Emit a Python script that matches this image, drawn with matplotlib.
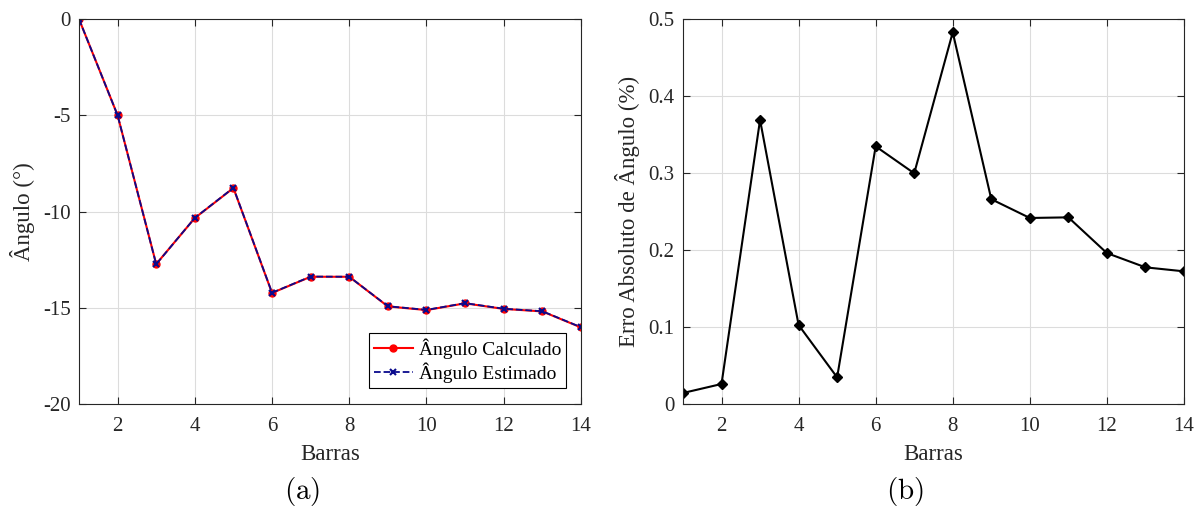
import matplotlib
matplotlib.use('Agg')
import numpy as np
from matplotlib import pyplot as plt

barras = np.arange(1, 15)
angulo_calc = [0.0, -5.0, -12.73, -10.34, -8.78, -14.23, -13.39, -13.39,
               -14.93, -15.12, -14.77, -15.06, -15.19, -16.02]
angulo_est = [0.0, -5.0, -12.74, -10.33, -8.77, -14.22, -13.38, -13.39,
              -14.92, -15.11, -14.76, -15.05, -15.18, -16.01]
erro_abs = [0.0143, 0.026, 0.369, 0.1026, 0.0346, 0.3346, 0.2996, 0.4827,
            0.266, 0.2416, 0.2424, 0.196, 0.1775, 0.1723]

plt.rcParams['font.family'] = ['Liberation Serif', 'DejaVu Serif']
plt.rcParams['mathtext.fontset'] = 'cm'
plt.rcParams['axes.unicode_minus'] = False
tick_fs = 15
label_fs = 16.5
txt = '#262626'


def style_axes(ax):
    ax.set_xlim(1, 14)
    ax.set_xticks(np.arange(2, 15, 2))
    ax.grid(True, color='#dcdcdc', linewidth=0.8)
    ax.set_axisbelow(True)
    ax.tick_params(direction='in', top=True, right=True, labelsize=tick_fs,
                   length=5, width=0.8, colors=txt)
    ax.tick_params(axis='x', pad=9)
    ax.tick_params(axis='y', pad=6)
    for s in ax.spines.values():
        s.set_linewidth(0.8)
        s.set_color(txt)
    ax.set_xlabel('Barras', fontsize=label_fs, color=txt, labelpad=6)


fig = plt.figure(figsize=(12.02, 5.08), dpi=100)

# (a) angulos
ax1 = fig.add_axes([0.0657, 0.2047, 0.4176, 0.7579])
ax1.plot(barras, angulo_calc, color='red', lw=1.5, marker='o', ms=5,
         label='Ângulo Calculado')
ax1.plot(barras, angulo_est, color='#0a0a8c', lw=1.3, ls='--', marker='x',
         ms=5, mew=1.5, label='Ângulo Estimado')
ax1.set_ylim(-20, 0)
ax1.set_yticks([-20, -15, -10, -5, 0])
style_axes(ax1)
ax1.set_ylabel('Ângulo (°)', fontsize=label_fs, color=txt, labelpad=6)
leg = ax1.legend(loc='lower right', bbox_to_anchor=(0.970, 0.042),
                 borderaxespad=0, fontsize=14, frameon=True, fancybox=False,
                 framealpha=1, edgecolor='black', handlelength=2.0,
                 handletextpad=0.3, borderpad=0.25, labelspacing=0.2)
leg.get_frame().set_linewidth(0.8)

# (b) erro
ax2 = fig.add_axes([0.5682, 0.2047, 0.4168, 0.7579])
ax2.plot(barras, erro_abs, color='black', lw=1.5, marker='D', ms=5)
ax2.set_ylim(0, 0.5)
ax2.set_yticks([0, 0.1, 0.2, 0.3, 0.4, 0.5])
ax2.set_yticklabels(['0', '0.1', '0.2', '0.3', '0.4', '0.5'])
style_axes(ax2)
ax2.set_ylabel('Erro Absoluto de Ângulo (%)', fontsize=label_fs, color=txt,
               labelpad=6)

fig.text(0.2512, 0.033, r'$\mathrm{(a)}$', fontsize=21, ha='center', va='center')
fig.text(0.7527, 0.033, r'$\mathrm{(b)}$', fontsize=21, ha='center', va='center')

fig.savefig('out.png', dpi=100)
